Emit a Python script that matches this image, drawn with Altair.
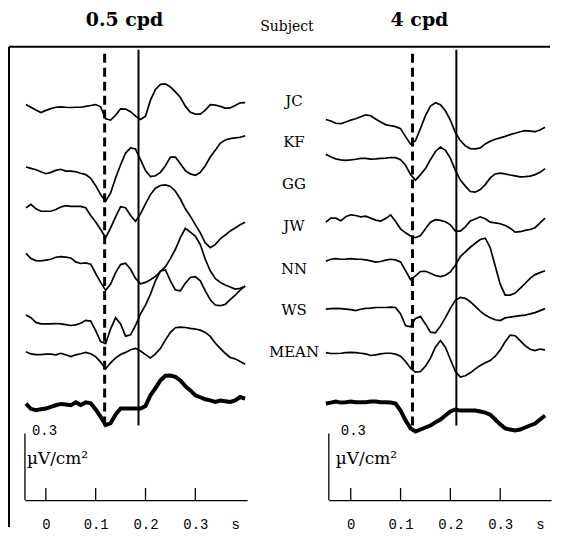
import altair as alt
import pandas as pd

# ---------------- data ----------------
SUBJECTS = ["JC", "KF", "GG", "JW", "NN", "WS", "MEAN"]

# time samples (s)
T_05 = [-0.04, -0.03, -0.02, -0.01, 0.00, 0.01, 0.02, 0.03, 0.04, 0.05, 0.06, 0.07, 0.08, 0.09,
        0.10, 0.11, 0.12, 0.13, 0.14, 0.15, 0.16, 0.17, 0.18, 0.19, 0.20, 0.21, 0.22, 0.23,
        0.24, 0.25, 0.26, 0.27, 0.28, 0.29, 0.30, 0.31, 0.32, 0.33, 0.34, 0.35, 0.36, 0.37,
        0.38, 0.39, 0.40]
T_4 = [-0.05, -0.04, -0.03, -0.02, -0.01, 0.00, 0.01, 0.02, 0.03, 0.04, 0.05, 0.06, 0.07, 0.08,
       0.09, 0.10, 0.11, 0.12, 0.13, 0.14, 0.15, 0.16, 0.17, 0.18, 0.19, 0.20, 0.21, 0.22,
       0.23, 0.24, 0.25, 0.26, 0.27, 0.28, 0.29, 0.30, 0.31, 0.32, 0.33, 0.34, 0.35, 0.36,
       0.37, 0.38, 0.39]

# 0.5 cpd responses (uV/cm^2, relative to each trace's baseline)
JC_05 = [0.010, -0.002, -0.014, -0.026, -0.016, -0.008, -0.002, 0.000, -0.002, -0.003, -0.002, -0.002,
         0.002, 0.006, 0.010, 0.000, -0.054, -0.060, -0.038, -0.009, -0.010, -0.022, -0.042, -0.057,
         -0.042, 0.030, 0.078, 0.101, 0.103, 0.090, 0.067, 0.042, 0.003, -0.025, -0.033, -0.033,
         -0.015, 0.010, 0.008, 0.002, -0.006, -0.005, 0.006, 0.018, 0.019]
KF_05 = [0.012, 0.006, 0.000, -0.009, -0.018, -0.012, -0.003, 0.002, -0.006, -0.006, -0.009, -0.016,
         -0.022, -0.039, -0.072, -0.112, -0.142, -0.104, -0.037, 0.022, 0.075, 0.098, 0.093, 0.045,
         -0.004, -0.031, -0.027, -0.012, 0.018, 0.057, 0.057, 0.027, -0.004, -0.019, -0.025, -0.012,
         0.018, 0.057, 0.087, 0.119, 0.134, 0.140, 0.143, 0.146, 0.152]
GG_05 = [0.000, 0.016, -0.004, -0.015, -0.015, -0.015, -0.007, 0.004, 0.010, 0.007, 0.007, 0.007,
         0.001, -0.034, -0.063, -0.097, -0.134, -0.090, -0.040, 0.006, 0.001, -0.034, -0.060, -0.027,
         0.018, 0.060, 0.089, 0.101, 0.104, 0.097, 0.075, 0.040, -0.004, -0.037, -0.075, -0.112,
         -0.157, -0.179, -0.165, -0.139, -0.122, -0.104, -0.090, -0.076, -0.064]
JW_05 = [0.024, 0.000, -0.009, -0.010, -0.007, -0.003, 0.006, 0.009, 0.007, 0.003, -0.015, -0.022,
         -0.019, -0.025, -0.067, -0.107, -0.143, -0.115, -0.063, -0.027, -0.021, -0.048, -0.089, -0.113,
         -0.107, -0.095, -0.080, -0.058, -0.036, 0.000, 0.042, 0.094, 0.136, 0.119, 0.101, 0.063,
         -0.003, -0.055, -0.089, -0.107, -0.119, -0.128, -0.137, -0.134, -0.125]
NN_05 = [0.037, 0.025, 0.004, -0.003, -0.003, -0.003, -0.001, -0.003, -0.006, -0.010, -0.007, 0.000,
         0.013, 0.010, -0.033, -0.082, -0.092, -0.025, 0.025, -0.003, -0.058, -0.052, -0.010, 0.042,
         0.082, 0.131, 0.191, 0.235, 0.240, 0.191, 0.150, 0.146, 0.180, 0.206, 0.210, 0.191,
         0.146, 0.106, 0.082, 0.079, 0.085, 0.106, 0.127, 0.149, 0.168]
WS_05 = [0.010, 0.000, -0.003, -0.003, -0.001, -0.001, -0.004, 0.003, -0.004, -0.012, -0.004, 0.001,
         0.007, 0.001, -0.012, -0.037, -0.067, -0.040, -0.018, -0.003, 0.007, 0.019, 0.025, 0.013,
         -0.003, -0.018, 0.000, 0.025, 0.063, 0.097, 0.118, 0.121, 0.119, 0.115, 0.112, 0.107,
         0.097, 0.079, 0.049, 0.025, 0.003, -0.016, -0.022, -0.034, -0.046]
MEAN_05 = [0.007, -0.016, -0.022, -0.018, -0.015, -0.007, 0.000, 0.006, 0.003, 0.000, 0.013, 0.001,
           0.013, 0.009, -0.019, -0.052, -0.089, -0.080, -0.042, -0.015, -0.015, -0.015, -0.015, -0.015,
           -0.003, 0.045, 0.077, 0.112, 0.133, 0.134, 0.128, 0.112, 0.086, 0.067, 0.045, 0.036,
           0.027, 0.022, 0.015, 0.021, 0.018, 0.015, 0.022, 0.037, 0.030]

# 4 cpd responses
JC_4 = [0.010, 0.003, -0.007, -0.009, -0.001, 0.007, 0.013, 0.022, 0.031, 0.027, 0.012, -0.001,
        -0.013, -0.018, -0.022, -0.031, -0.067, -0.101, -0.085, -0.030, 0.027, 0.070, 0.085, 0.076,
        0.049, 0.007, -0.049, -0.085, -0.109, -0.121, -0.122, -0.118, -0.100, -0.088, -0.079, -0.073,
        -0.066, -0.058, -0.052, -0.045, -0.040, -0.042, -0.045, -0.037, -0.025]
KF_4 = [0.021, 0.010, 0.001, -0.004, -0.006, -0.004, -0.001, 0.003, 0.003, 0.000, 0.001, 0.003,
        0.004, 0.007, 0.006, -0.003, -0.028, -0.070, -0.095, -0.070, -0.043, -0.003, 0.034, 0.054,
        0.039, 0.004, -0.051, -0.095, -0.122, -0.146, -0.149, -0.137, -0.115, -0.085, -0.067, -0.063,
        -0.067, -0.072, -0.076, -0.080, -0.079, -0.077, -0.070, -0.060, -0.043]
GG_4 = [-0.015, 0.003, 0.003, -0.009, 0.009, 0.018, 0.015, 0.009, 0.012, 0.003, -0.006, -0.010,
        0.001, 0.018, -0.012, -0.045, -0.063, -0.077, -0.085, -0.075, -0.045, -0.015, -0.004, -0.007,
        -0.013, -0.027, -0.055, -0.055, -0.036, -0.010, -0.001, 0.009, 0.000, -0.015, -0.018, -0.022,
        -0.030, -0.042, -0.060, -0.058, -0.052, -0.048, -0.040, -0.018, 0.003]
JW_4 = [-0.006, 0.003, 0.006, 0.003, 0.004, 0.006, 0.004, 0.003, 0.000, -0.004, -0.010, -0.007,
        -0.001, 0.003, 0.000, -0.009, -0.048, -0.089, -0.072, -0.052, -0.051, -0.060, -0.070, -0.075,
        -0.069, -0.054, -0.024, 0.015, 0.036, 0.057, 0.075, 0.092, 0.098, 0.055, -0.027, -0.109,
        -0.158, -0.158, -0.149, -0.128, -0.106, -0.083, -0.066, -0.057, -0.049]
NN_4 = [-0.003, -0.001, 0.000, -0.001, -0.003, -0.006, -0.010, -0.004, 0.000, 0.001, 0.004, 0.004,
        0.004, 0.006, 0.004, -0.025, -0.077, -0.083, -0.045, -0.037, -0.070, -0.107, -0.110, -0.080,
        -0.042, 0.000, 0.036, 0.049, 0.045, 0.030, 0.009, -0.012, -0.030, -0.042, -0.051, -0.055,
        -0.043, -0.039, -0.036, -0.033, -0.030, -0.025, -0.019, -0.010, -0.001]
WS_4 = [0.003, -0.001, -0.001, 0.000, 0.003, 0.004, 0.003, 0.000, -0.003, -0.010, -0.007, -0.003,
        0.000, 0.000, -0.004, -0.013, -0.037, -0.067, -0.085, -0.082, -0.058, -0.022, 0.027, 0.057,
        0.027, -0.028, -0.081, -0.107, -0.101, -0.088, -0.070, -0.055, -0.043, -0.033, -0.013, 0.015,
        0.052, 0.082, 0.079, 0.057, 0.034, 0.018, 0.012, 0.019, 0.015]
MEAN_4 = [-0.002, 0.002, 0.007, 0.002, 0.004, 0.007, 0.004, 0.004, 0.004, 0.007, 0.007, 0.004,
          0.004, 0.002, -0.002, -0.034, -0.078, -0.114, -0.128, -0.119, -0.110, -0.101, -0.087, -0.074,
          -0.056, -0.038, -0.029, -0.034, -0.034, -0.034, -0.034, -0.038, -0.043, -0.052, -0.074, -0.096,
          -0.114, -0.119, -0.123, -0.119, -0.110, -0.101, -0.092, -0.074, -0.056]

# vertical stacking level of each trace (uV/cm^2 above the time axis)
OFFSET_05 = [1.770, 1.487, 1.315, 1.087, 0.796, 0.658, 0.427]
OFFSET_4 = [1.703, 1.535, 1.266, 1.081, 0.863, 0.661, 0.437]
LABEL_LEVEL = [1.798, 1.610, 1.421, 1.233, 1.040, 0.857, 0.668]

# latency markers (s): dashed and solid lines
MARK_05 = [0.118, 0.186]
MARK_4 = [0.124, 0.212]
MARK_SPAN = [0.336, 2.027]

TICKS = [0.0, 0.1, 0.2, 0.3]
SCALE_BAR = 0.3

# ---------------- styling ----------------
Y_TOP = 2.04
PANEL_W, PANEL_H = 223, 455
TICK_LEN = 0.055
SERIF = "DejaVu Serif"
TICKFONT = "Liberation Mono"


def build(times, series, offsets):
    rows = []
    for name, vals, off in zip(SUBJECTS, series, offsets):
        assert len(vals) == len(times), name
        for t, v in zip(times, vals):
            rows.append({"subject": name, "t": t, "v": round(v + off, 4)})
    return pd.DataFrame(rows)


df05 = build(T_05, [JC_05, KF_05, GG_05, JW_05, NN_05, WS_05, MEAN_05], OFFSET_05)
df4 = build(T_4, [JC_4, KF_4, GG_4, JW_4, NN_4, WS_4, MEAN_4], OFFSET_4)


def panel(df, domain, marks, bar_dx, left=False):
    xs = alt.Scale(domain=domain, nice=False, zero=False)
    ys = alt.Scale(domain=[0, Y_TOP], nice=False, zero=False)
    x_axis = alt.Axis(values=TICKS + [0.38],
                      labelExpr="datum.value > 0.35 ? 's' : (datum.value == 0 ? '0' : format(datum.value, '.1f'))",
                      ticks=False, tickSize=0, domain=True, domainColor="black", domainWidth=1.3,
                      grid=False, title=None, labelFont=TICKFONT, labelFontSize=14,
                      labelColor="black", labelPadding=17, labelFlush=False,
                      labelOverlap=False, labelBound=False)
    X = alt.X("t:Q", scale=xs, axis=x_axis)
    Y = alt.Y("v:Q", scale=ys, axis=None)

    subj = df[df.subject != "MEAN"]
    mean = df[df.subject == "MEAN"]
    layers = [
        alt.Chart(subj).mark_line(color="black", strokeWidth=1.7).encode(x=X, y=Y, detail="subject:N"),
        alt.Chart(mean).mark_line(color="black", strokeWidth=4).encode(x=X, y=Y),
    ]
    mk = pd.DataFrame({"t": [marks[0]], "v": [MARK_SPAN[0]], "v2": [MARK_SPAN[1]]})
    layers.append(alt.Chart(mk).mark_rule(color="black", strokeWidth=3, strokeDash=[9, 5])
                  .encode(x=X, y=Y, y2="v2:Q"))
    ms = pd.DataFrame({"t": [marks[1]], "v": [MARK_SPAN[0]], "v2": [MARK_SPAN[1]]})
    layers.append(alt.Chart(ms).mark_rule(color="black", strokeWidth=2).encode(x=X, y=Y, y2="v2:Q"))
    tk = pd.DataFrame({"t": TICKS, "v": [0.0] * len(TICKS), "v2": [TICK_LEN] * len(TICKS)})
    layers.append(alt.Chart(tk).mark_rule(color="black", strokeWidth=1.3).encode(x=X, y=Y, y2="v2:Q"))
    sb = pd.DataFrame({"v": [0.0], "v2": [SCALE_BAR]})
    layers.append(alt.Chart(sb).mark_rule(color="black", strokeWidth=1.3)
                  .encode(x=alt.value(0), y=Y, y2="v2:Q"))
    layers.append(alt.Chart(pd.DataFrame({"s": ["0.3"]})).mark_text(
        align="left", baseline="middle", font=TICKFONT, fontSize=14, color="black")
        .encode(x=alt.value(bar_dx), y=alt.value(386), text="s:N"))
    layers.append(alt.Chart(pd.DataFrame({"s": ["µV/cm²"]})).mark_text(
        align="left", baseline="middle", font=SERIF, fontSize=17, color="black")
        .encode(x=alt.value(bar_dx - 5), y=alt.value(414), text="s:N"))

    if left:
        lab = pd.DataFrame({"subject": SUBJECTS, "v": LABEL_LEVEL})
        layers.append(alt.Chart(lab).mark_text(font=SERIF, fontSize=15, color="black",
                                               align="center", baseline="middle")
                      .encode(x=alt.value(270), y=Y, text="subject:N"))
        for txt, xpos, ypos, size, bold in [("0.5 cpd", 100, -27, 19, True),
                                            ("Subject", 263, -20, 14, False),
                                            ("4 cpd", 396, -27, 19, True)]:
            layers.append(alt.Chart(pd.DataFrame({"s": [txt]})).mark_text(
                font=SERIF, fontSize=size, fontWeight="bold" if bold else "normal",
                color="black", align="center", baseline="middle")
                .encode(x=alt.value(xpos), y=alt.value(ypos), text="s:N"))
        frame = pd.DataFrame({"k": [0]})
        layers.append(alt.Chart(frame).mark_rule(color="black", strokeWidth=2)
                      .encode(x=alt.value(-16), y=alt.value(0), y2=alt.value(PANEL_H + 27)))
        layers.append(alt.Chart(frame).mark_rule(color="black", strokeWidth=2)
                      .encode(x=alt.value(-16), x2=alt.value(2 * PANEL_W + 81), y=alt.value(0)))

    return alt.layer(*layers).properties(width=PANEL_W, height=PANEL_H)


left = panel(df05, [-0.042, 0.404], MARK_05, 7, left=True)
right = panel(df4, [-0.044, 0.402], MARK_4, 12)

chart = (alt.hconcat(left, right, spacing=82, bounds="flush")
         .properties(padding={"left": 0, "top": 2, "right": 0, "bottom": 0}, background="white")
         .configure_view(stroke=None))

chart.save("out.html", embed_options={"renderer": "svg", "actions": False})
